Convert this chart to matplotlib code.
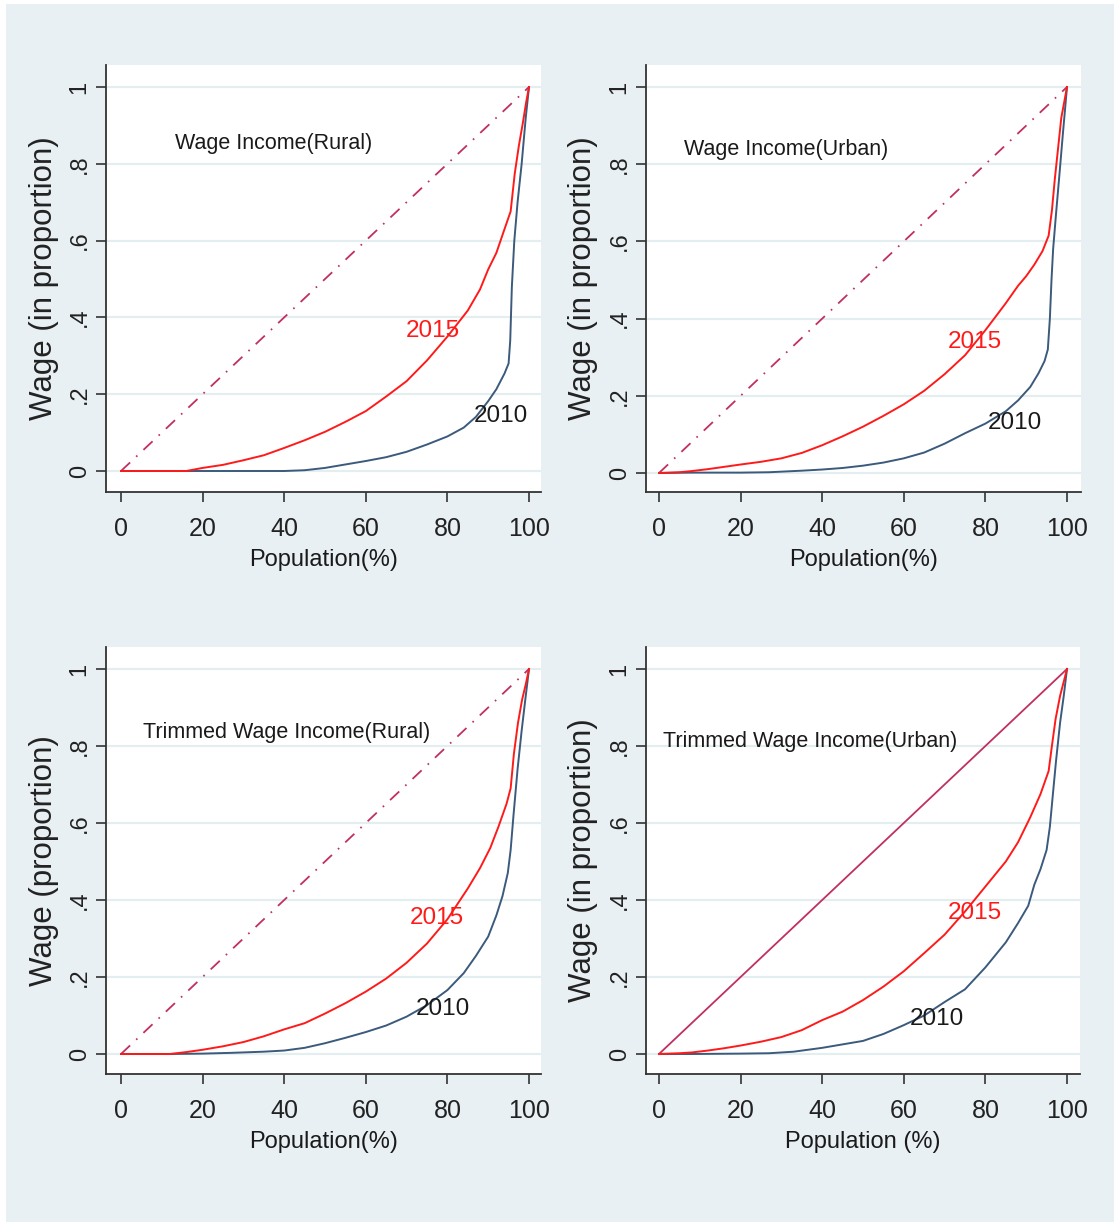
import matplotlib
matplotlib.use('Agg')
import matplotlib.pyplot as plt
from matplotlib.patches import Rectangle

# ---------------- data ----------------
eq_x = [0, 100]
eq_y = [0, 1]

# Wage Income (Rural)
rural_2015_x = [0, 16, 20, 25, 30, 35, 40, 45, 50, 55, 60, 65, 70, 75, 80, 85, 88, 90, 92, 94, 95.5, 96.5, 97.5, 98.5, 99.3, 100]
rural_2015_y = [0, 0, 0.008, 0.016, 0.028, 0.041, 0.060, 0.080, 0.102, 0.128, 0.156, 0.194, 0.234, 0.288, 0.350, 0.418, 0.473, 0.525, 0.568, 0.63, 0.676, 0.774, 0.846, 0.907, 0.96, 1.0]
rural_2010_x = [0, 40, 45, 50, 55, 60, 65, 70, 75, 80, 84, 87, 90, 92, 94, 95, 95.4, 95.8, 96.4, 97.2, 98.2, 99.2, 100]
rural_2010_y = [0, 0, 0.002, 0.008, 0.017, 0.026, 0.036, 0.05, 0.069, 0.09, 0.113, 0.141, 0.182, 0.213, 0.254, 0.28, 0.34, 0.48, 0.60, 0.70, 0.80, 0.92, 1.0]

# Wage Income (Urban)
urban_2015_x = [0, 5, 8, 12, 16, 20, 25, 30, 35, 40, 45, 50, 55, 60, 65, 70, 75, 80, 85, 88, 90, 92, 94, 95.5, 96.3, 97, 97.8, 98.6, 100]
urban_2015_y = [0, 0.002, 0.005, 0.01, 0.016, 0.022, 0.029, 0.038, 0.052, 0.072, 0.095, 0.12, 0.148, 0.178, 0.213, 0.256, 0.305, 0.37, 0.44, 0.485, 0.51, 0.54, 0.575, 0.615, 0.68, 0.76, 0.84, 0.92, 1.0]
urban_2010_x = [0, 8, 20, 27, 35, 40, 45, 50, 55, 60, 65, 70, 75, 80, 85, 88, 91, 93, 94.5, 95.3, 95.8, 96.2, 96.6, 97.3, 98.2, 99, 100]
urban_2010_y = [0, 0.001, 0.001, 0.002, 0.006, 0.009, 0.013, 0.019, 0.027, 0.038, 0.053, 0.076, 0.103, 0.128, 0.16, 0.188, 0.223, 0.258, 0.29, 0.32, 0.4, 0.5, 0.58, 0.67, 0.78, 0.88, 1.0]

# Trimmed Wage Income (Rural)
trural_2015_x = [0, 12, 16, 20, 25, 30, 35, 40, 45, 50, 55, 60, 65, 70, 75, 80, 85, 88, 90.5, 92.5, 94.5, 95.5, 96.3, 97.3, 98.3, 99.2, 100]
trural_2015_y = [0, 0, 0.005, 0.011, 0.02, 0.031, 0.046, 0.064, 0.08, 0.105, 0.132, 0.162, 0.196, 0.237, 0.287, 0.35, 0.43, 0.483, 0.535, 0.59, 0.65, 0.69, 0.78, 0.86, 0.92, 0.96, 1.0]
trural_2010_x = [0, 12, 20, 27, 35, 40, 45, 50, 55, 60, 65, 70, 75, 80, 84, 87, 90, 92, 93.5, 94.8, 95.5, 96.2, 97.2, 98.2, 99.2, 100]
trural_2010_y = [0, 0, 0.001, 0.003, 0.006, 0.009, 0.016, 0.028, 0.042, 0.057, 0.074, 0.097, 0.127, 0.166, 0.21, 0.255, 0.305, 0.36, 0.41, 0.47, 0.53, 0.62, 0.74, 0.84, 0.93, 1.0]

# Trimmed Wage Income (Urban)
turban_2015_x = [0, 5, 8, 12, 16, 20, 25, 30, 35, 40, 45, 50, 55, 60, 65, 70, 75, 80, 85, 88, 91, 93.5, 95.5, 96.3, 97.2, 98.3, 100]
turban_2015_y = [0, 0.002, 0.004, 0.009, 0.015, 0.022, 0.032, 0.044, 0.062, 0.088, 0.11, 0.14, 0.175, 0.215, 0.262, 0.31, 0.37, 0.435, 0.5, 0.55, 0.615, 0.675, 0.735, 0.8, 0.87, 0.93, 1.0]
turban_2010_x = [0, 8, 20, 27, 33, 40, 45, 50, 55, 60, 65, 70, 75, 80, 85, 88, 90.5, 92, 93.5, 95, 95.8, 96.5, 97.3, 98.3, 99.2, 100]
turban_2010_y = [0, 0, 0.001, 0.002, 0.006, 0.016, 0.025, 0.034, 0.052, 0.075, 0.1, 0.135, 0.168, 0.225, 0.29, 0.34, 0.385, 0.44, 0.48, 0.53, 0.59, 0.67, 0.76, 0.86, 0.93, 1.0]

titles = ["Wage Income(Rural)", "Wage Income(Urban)",
          "Trimmed Wage Income(Rural)", "Trimmed Wage Income(Urban)"]
ylabels = ["Wage (in proportion)", "Wage (in proportion)",
           "Wage (proportion)", "Wage (in proportion)"]
xlabels = ["Population(%)", "Population(%)", "Population(%)", "Population (%)"]
xticks = [0, 20, 40, 60, 80, 100]
xticklabels = ["0", "20", "40", "60", "80", "100"]
yticks = [0, 0.2, 0.4, 0.6, 0.8, 1.0]
yticklabels = ["0", ".2", ".4", ".6", ".8", "1"]
year_labels = ["2015", "2010"]

# ---------------- style / layout ----------------
W, H = 1114, 1222
BG = '#e9f0f3'
RED = '#ff1a1a'
NAVY = '#3b5a7c'
EQC = '#c03060'
DARK = '#333333'
FONT = ['Liberation Sans', 'DejaVu Sans']
plt.rcParams['lines.scale_dashes'] = False

# (left, top, right, bottom, px of x=0, px of x=100, px of y=0, px of y=1)
boxes = [
    (106, 65, 541, 492, 121, 529, 471, 87),
    (646, 65, 1081, 492, 659, 1067, 473, 87),
    (106, 647, 541, 1074, 121, 529, 1054, 669),
    (646, 647, 1080, 1074, 659, 1067, 1054, 669),
]
ylabel_px = [59, 598, 59, 598]
title_pos = [(13.3, 0.854), (6.1, 0.839), (5.4, 0.836), (0.9, 0.811)]
lab2015_pos = [(76.4, 0.364), (77.5, 0.339), (77.5, 0.352), (77.5, 0.367)]
lab2010_pos = [(93.0, 0.144), (87.2, 0.129), (78.8, 0.116), (68.1, 0.091)]
eq_solid = [False, False, False, True]

series = [
    (rural_2015_x, rural_2015_y, rural_2010_x, rural_2010_y),
    (urban_2015_x, urban_2015_y, urban_2010_x, urban_2010_y),
    (trural_2015_x, trural_2015_y, trural_2010_x, trural_2010_y),
    (turban_2015_x, turban_2015_y, turban_2010_x, turban_2010_y),
]

fig = plt.figure(figsize=(W / 100, H / 100), dpi=100, facecolor='white')
fig.patches.append(Rectangle((6 / W, 0), 1 - 6 / W, 1 - 4 / H, transform=fig.transFigure,
                             facecolor=BG, edgecolor='none', zorder=-10))

for i, (l, t, r, b, x0, x100, y0, y1) in enumerate(boxes):
    ax = fig.add_axes([l / W, 1 - b / H, (r - l) / W, (b - t) / H])
    ax.set_facecolor('white')
    ppx = (x100 - x0) / 100.0
    ppy = (y0 - y1) / 1.0
    ax.set_xlim((l - x0) / ppx, (r - x0) / ppx)
    ax.set_ylim((y0 - b) / ppy, (y0 - t) / ppy)

    for s in ['top', 'right']:
        ax.spines[s].set_visible(False)
    for s in ['left', 'bottom']:
        ax.spines[s].set_color(DARK)
        ax.spines[s].set_linewidth(1.3)

    ax.set_yticks(yticks)
    ax.set_yticklabels(yticklabels, rotation=90, va='center', family=FONT, fontsize=17, color='#222222')
    ax.set_xticks(xticks)
    ax.set_xticklabels(xticklabels, family=FONT, fontsize=18, color='#222222')
    ax.tick_params(axis='both', length=7, width=1.2, color=DARK)
    ax.tick_params(axis='x', pad=11)
    ax.tick_params(axis='y', pad=4)
    ax.yaxis.grid(True, color='#e4edf0', lw=1.6, zorder=0)
    ax.set_axisbelow(True)

    ax.set_xlabel(xlabels[i], family=FONT, fontsize=17, color='#1a1a1a', labelpad=6)
    ax.set_ylabel(ylabels[i], family=FONT, fontsize=22.5, color='#222222')
    ax.yaxis.set_label_coords((ylabel_px[i] - l) / (r - l), 0.5)

    x15, y15, x10, y10 = series[i]
    if eq_solid[i]:
        ax.plot(eq_x, eq_y, color=EQC, lw=1.3, zorder=2)
    else:
        ax.plot(eq_x, eq_y, color=EQC, lw=1.3, dashes=(9, 6, 1.2, 6), zorder=2)
    ax.plot(x10, y10, color=NAVY, lw=1.4, zorder=3)
    ax.plot(x15, y15, color=RED, lw=1.4, zorder=4)

    ax.text(title_pos[i][0], title_pos[i][1], titles[i], family=FONT, fontsize=15.5,
            color='#1a1a1a', ha='left', va='center')
    ax.text(lab2015_pos[i][0], lab2015_pos[i][1], year_labels[0], family=FONT, fontsize=17.5,
            color=RED, ha='center', va='center', zorder=5)
    ax.text(lab2010_pos[i][0], lab2010_pos[i][1], year_labels[1], family=FONT, fontsize=17.5,
            color='#1a1a1a', ha='center', va='center', zorder=5)

fig.savefig('out.png', dpi=100, facecolor=fig.get_facecolor())
